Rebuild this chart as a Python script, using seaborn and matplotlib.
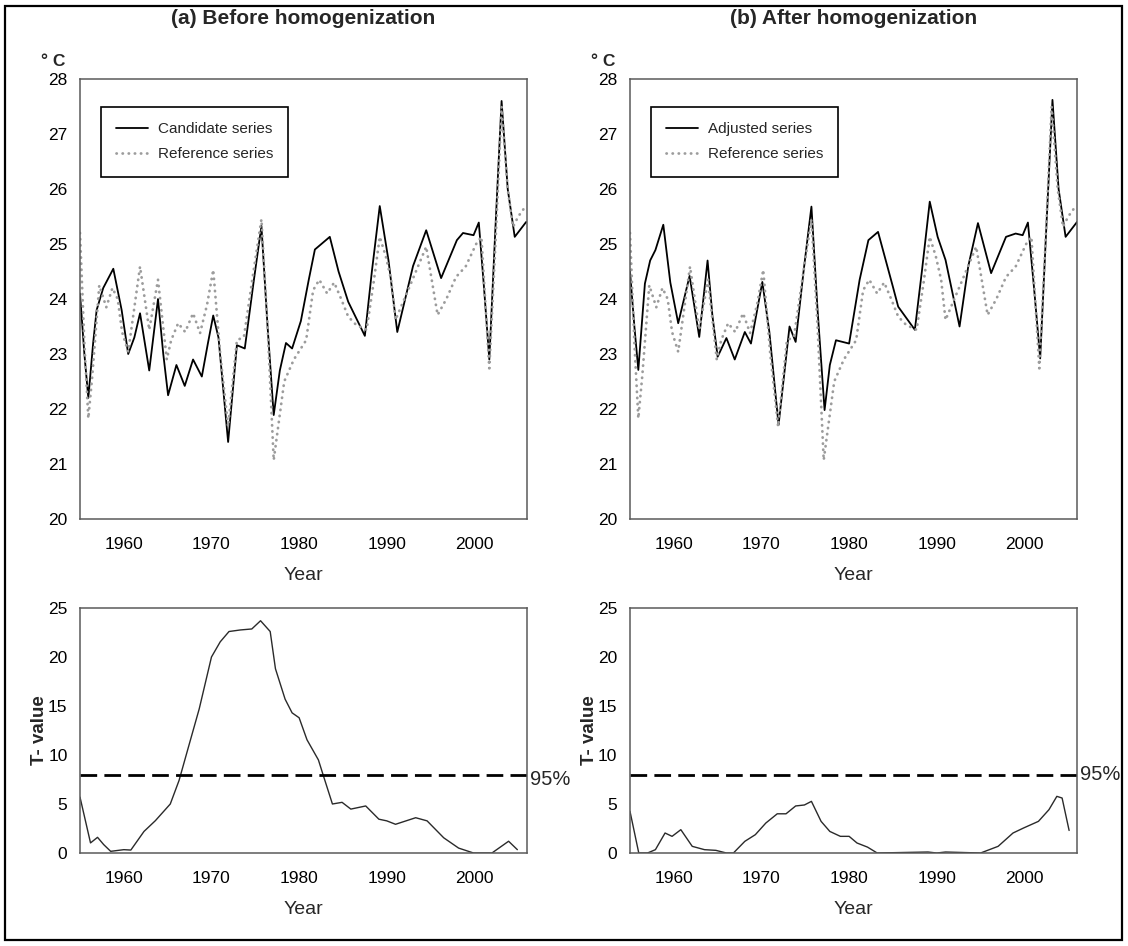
import numpy as np
import pandas as pd
import matplotlib
matplotlib.use("Agg")
import matplotlib.pyplot as plt
import matplotlib.transforms as mtransforms
from matplotlib.patches import Rectangle
from matplotlib.lines import Line2D
import seaborn as sns

# ---------------- data ----------------
cand_years = [1955.0, 1955.5, 1955.95, 1956.5, 1956.9, 1957.65, 1958.8, 1959.75, 1960.5, 1961.2,
              1961.85, 1962.9, 1963.9, 1964.5, 1965.05, 1966.0, 1966.95, 1967.9, 1968.9, 1969.6,
              1970.2, 1970.8, 1971.9, 1972.9, 1973.8, 1974.8, 1975.7, 1976.4, 1977.1, 1977.8,
              1978.5, 1979.2, 1980.2, 1981.1, 1981.8, 1983.5, 1984.5, 1985.6, 1987.5, 1988.3,
              1989.2, 1990.2, 1991.2, 1993.0, 1994.5, 1996.2, 1998.0, 1998.7, 1999.9, 2000.5,
              2001.1, 2001.7, 2002.4, 2003.1, 2003.8, 2004.6, 2005.9]
cand_vals = [24.1, 23.0, 22.2, 23.2, 23.8, 24.2, 24.55, 23.8, 23.0, 23.3,
             23.74, 22.7, 24.0, 23.0, 22.25, 22.8, 22.42, 22.9, 22.59, 23.2,
             23.7, 23.3, 21.4, 23.16, 23.1, 24.3, 25.33, 23.5, 21.89, 22.7,
             23.2, 23.1, 23.6, 24.35, 24.9, 25.13, 24.5, 23.95, 23.33, 24.5,
             25.69, 24.7, 23.4, 24.6, 25.25, 24.38, 25.07, 25.2, 25.16, 25.39,
             24.2, 22.9, 25.3, 27.6, 26.0, 25.13, 25.4]

ref_years = [1955.0, 1955.5, 1955.95, 1956.4, 1957.2, 1958.0, 1958.7, 1959.3, 1959.8, 1960.5,
             1961.85, 1962.9, 1963.9, 1964.9, 1965.4, 1966.2, 1967.0, 1967.9, 1968.7, 1969.5,
             1970.2, 1971.0, 1971.9, 1972.9, 1973.7, 1974.7, 1975.7, 1976.4, 1977.1, 1978.3,
             1979.4, 1980.8, 1981.6, 1982.3, 1983.2, 1984.0, 1984.8, 1985.6, 1986.5, 1987.7,
             1988.5, 1989.2, 1989.9, 1990.5, 1991.0, 1992.8, 1994.5, 1995.8, 1996.8, 1997.9,
             1999.0, 2000.2, 2000.8, 2001.7, 2002.4, 2003.1, 2003.8, 2004.4, 2005.0, 2005.9]
ref_vals = [25.2, 23.2, 21.83, 22.6, 24.25, 23.85, 24.2, 24.0, 23.4, 23.04,
            24.59, 23.44, 24.35, 22.9, 23.25, 23.56, 23.4, 23.74, 23.38, 23.9,
            24.53, 23.0, 21.68, 23.25, 23.31, 24.4, 25.45, 23.5, 21.07, 22.5,
            22.9, 23.25, 24.16, 24.35, 24.1, 24.3, 24.0, 23.68, 23.53, 23.44,
            24.3, 25.13, 24.77, 24.35, 23.62, 24.3, 24.95, 23.71, 24.0, 24.4,
            24.59, 25.0, 25.13, 22.74, 25.0, 27.5, 26.0, 25.31, 25.5, 25.7]

adj_years = [1955.0, 1955.5, 1955.95, 1956.7, 1957.3, 1957.9, 1958.8, 1959.6, 1960.5, 1961.8,
             1962.9, 1963.85, 1964.4, 1965.0, 1966.0, 1966.95, 1968.1, 1968.8, 1970.1, 1970.9,
             1971.95, 1973.2, 1973.9, 1974.8, 1975.7, 1976.4, 1977.2, 1977.8, 1978.5, 1980.0,
             1981.2, 1982.2, 1983.3, 1985.0, 1985.6, 1987.5, 1988.3, 1989.2, 1990.1, 1991.0,
             1992.6, 1993.6, 1994.7, 1996.2, 1997.9, 1999.0, 1999.8, 2000.4, 2001.1, 2001.8,
             2002.5, 2003.2, 2003.9, 2004.7, 2006.0]
adj_vals = [24.5, 23.5, 22.71, 24.28, 24.7, 24.89, 25.35, 24.3, 23.56, 24.42,
            23.31, 24.7, 23.7, 22.95, 23.29, 22.9, 23.4, 23.19, 24.31, 23.4,
            21.71, 23.5, 23.22, 24.5, 25.68, 23.8, 21.98, 22.8, 23.25, 23.19,
            24.35, 25.07, 25.22, 24.22, 23.86, 23.44, 24.5, 25.77, 25.13, 24.71,
            23.5, 24.6, 25.38, 24.47, 25.13, 25.19, 25.16, 25.39, 24.2, 22.92,
            25.3, 27.62, 26.0, 25.13, 25.4]

tb_years = [1955.0, 1956.2, 1957.0, 1957.7, 1958.5, 1960.0, 1960.8, 1962.3, 1963.6, 1965.3,
            1966.3, 1967.4, 1968.6, 1970.0, 1971.0, 1972.0, 1973.3, 1974.6, 1975.6, 1976.7,
            1977.3, 1978.4, 1979.2, 1980.0, 1980.9, 1982.2, 1982.8, 1983.8, 1984.9, 1985.9,
            1987.6, 1989.1, 1990.0, 1991.0, 1993.3, 1994.6, 1996.5, 1998.2, 1999.9, 2002.0,
            2003.9, 2004.9]
tb_vals = [5.7, 1.03, 1.6, 0.86, 0.17, 0.34, 0.3, 2.2, 3.3, 5.0,
           7.4, 10.9, 14.7, 20.0, 21.55, 22.6, 22.76, 22.86, 23.7, 22.6,
           18.8, 15.7, 14.3, 13.8, 11.55, 9.5, 7.8, 5.0, 5.17, 4.48,
           4.8, 3.45, 3.28, 2.93, 3.6, 3.28, 1.55, 0.5, 0.0, 0.0,
           1.2, 0.34]

ta_years = [1955.0, 1956.0, 1957.0, 1957.9, 1959.0, 1959.8, 1960.8, 1962.1, 1963.5, 1964.8,
            1966.0, 1966.8, 1968.1, 1969.3, 1970.5, 1971.8, 1972.8, 1973.9, 1974.9, 1975.7,
            1976.8, 1977.8, 1979.0, 1980.0, 1980.9, 1982.1, 1983.2, 1989.0, 1990.0, 1991.0,
            1995.0, 1997.0, 1998.7, 1999.9, 2001.6, 2002.8, 2003.7, 2004.3, 2005.1]
ta_vals = [4.25, 0.0, 0.0, 0.34, 2.04, 1.7, 2.38, 0.68, 0.34, 0.27,
           0.0, 0.0, 1.19, 1.87, 3.06, 4.0, 4.0, 4.8, 4.9, 5.27,
           3.23, 2.2, 1.7, 1.7, 1.02, 0.6, 0.0, 0.1, 0.0, 0.1,
           0.0, 0.68, 2.04, 2.55, 3.23, 4.42, 5.78, 5.61, 2.3]

threshold_95 = 8.0
temp_ticks = [20, 21, 22, 23, 24, 25, 26, 27, 28]
t_ticks = [0, 5, 10, 15, 20, 25]
year_ticks = [1960, 1970, 1980, 1990, 2000]

titles = ["(a) Before homogenization", "(b) After homogenization"]
series_labels = [["Candidate series", "Reference series"], ["Adjusted series", "Reference series"]]

# ---------------- style ----------------
sns.set_theme(style="white")
plt.rcParams["font.family"] = ["Liberation Sans", "DejaVu Sans"]

W, H = 1128, 946
fig = plt.figure(figsize=(W / 100, H / 100), dpi=100)
fig.patch.set_facecolor("white")

SP = "#5a5a5a"
REFC = "#9c9c9c"


def ax_at(x0, y0, x1, y1):
    return fig.add_axes([x0 / W, 1 - y1 / H, (x1 - x0) / W, (y1 - y0) / H])


def style(ax):
    for s in ax.spines.values():
        s.set_visible(True)
        s.set_color(SP)
        s.set_linewidth(1.1)
    ax.tick_params(axis="both", direction="out", length=5, width=1, color=SP,
                   labelsize=12.5, labelcolor="black")
    ax.tick_params(axis="x", pad=8)
    ax.tick_params(axis="y", pad=4)
    ax.set_facecolor("white")
    ax.grid(False)


lefts = [(80, 527), (630, 1077)]
top_y = (79, 519)
bot_y = (608, 853)

main_series = [(cand_years, cand_vals), (adj_years, adj_vals)]
t_series = [(tb_years, tb_vals), (ta_years, ta_vals)]

for i, (x0, x1) in enumerate(lefts):
    # ---- top panel ----
    ax = ax_at(x0, top_y[0], x1, top_y[1])
    df_main = pd.DataFrame({"Year": main_series[i][0], "T": main_series[i][1]})
    df_ref = pd.DataFrame({"Year": ref_years, "T": ref_vals})
    sns.lineplot(data=df_main, x="Year", y="T", ax=ax, color="black", linewidth=1.3,
                 estimator=None, sort=False, label=series_labels[i][0])
    sns.lineplot(data=df_ref, x="Year", y="T", ax=ax, color=REFC, linewidth=2.0,
                 estimator=None, sort=False, label=series_labels[i][1],
                 linestyle=(0, (0.1, 2.1)), dash_capstyle="round")
    ax.set_xlim(1955, 2006)
    ax.set_ylim(20, 28)
    ax.set_xticks(year_ticks)
    ax.set_yticks(temp_ticks)
    style(ax)
    ax.set_xlabel("Year", fontsize=14, labelpad=11)
    ax.set_ylabel("")
    h_main = Line2D([], [], color="black", lw=1.3)
    h_ref = Line2D([], [], color=REFC, lw=2.0, linestyle=(0, (0.1, 2.1)), dash_capstyle="round")
    leg = ax.legend([h_main, h_ref], series_labels[i], loc="upper left",
                    bbox_to_anchor=(0.047, 0.937), fontsize=11, frameon=True,
                    fancybox=False, framealpha=1, edgecolor="black", borderpad=1.0,
                    labelspacing=0.75, handlelength=2.1, handletextpad=0.6, borderaxespad=0)
    leg.get_frame().set_linewidth(1.2)
    fig.text((x0 + x1) / 2 / W, 1 - 18 / H, titles[i], ha="center", va="center",
             fontsize=15, fontweight="bold")
    fig.text((x0 - 39) / W, 1 - 62 / H, "° C", ha="left", va="center",
             fontsize=12.5, fontweight="bold")

    # ---- bottom panel ----
    axb = ax_at(x0, bot_y[0], x1, bot_y[1])
    df_t = pd.DataFrame({"Year": t_series[i][0], "Tv": t_series[i][1]})
    sns.lineplot(data=df_t, x="Year", y="Tv", ax=axb, color="#2a2a2a", linewidth=1.0,
                 estimator=None, sort=False)
    axb.axhline(threshold_95, color="black", linewidth=2.0, dashes=(6, 2.6))
    axb.set_xlim(1955, 2006)
    axb.set_ylim(0, 25)
    axb.set_xticks(year_ticks)
    axb.set_yticks(t_ticks)
    style(axb)
    axb.set_xlabel("Year", fontsize=14, labelpad=11)
    axb.set_ylabel("T- value", fontsize=13.5, fontweight="bold")
    axb.yaxis.set_label_coords(-32 / (x1 - x0), 0.5)
    trans = mtransforms.blended_transform_factory(axb.transAxes, axb.transData)
    axb.text(1.006, threshold_95 - (0.5 if i == 0 else 0.0), "95%", transform=trans,
             ha="left", va="center", fontsize=14.5)

# outer frame
fig.patches.append(Rectangle((5 / W, 6 / H), (1122 - 5) / W, (940 - 6) / H,
                             transform=fig.transFigure, fill=False,
                             edgecolor="black", linewidth=1.6))

fig.savefig("out.png", dpi=100, facecolor="white")
